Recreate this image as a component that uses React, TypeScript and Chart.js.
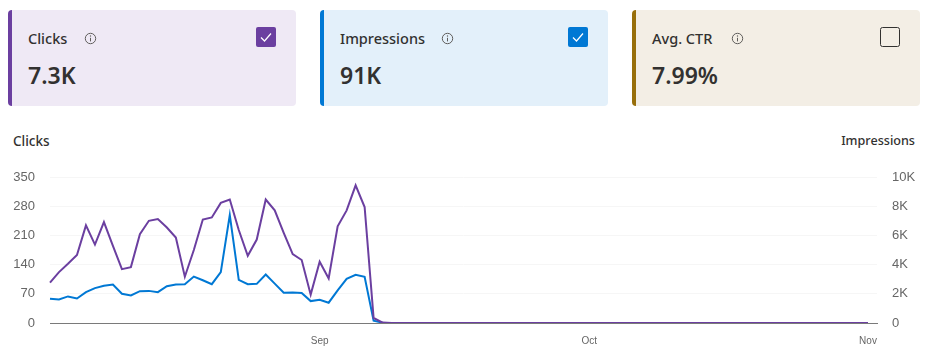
import React, { useEffect, useRef } from "react";
import { Chart, registerables } from "chart.js";

Chart.register(...registerables);

const monthLengths: [string, number, number][] = [
  ["Aug", 2, 31],
  ["Sep", 1, 30],
  ["Oct", 1, 31],
  ["Nov", 1, 2],
];
const categories: string[] = [];
for (const [m, from, to] of monthLengths) {
  for (let d = from; d <= to; d++) categories.push(`${m} ${d}`);
}
const monthTicks: Record<string, string> = { "Sep 1": "Sep", "Oct 1": "Oct", "Nov 1": "Nov" };

const clicks: (number | null)[] = [
  97, 122, 142, 163, 234, 188, 242, 185, 129, 134, 213, 245, 249, 229, 205, 111, 175, 248, 253,
  288, 296, 223, 161, 200, 296, 270, 216, 165, 151, 68, 147, 107, 232, 270, 330, 278, 12, 1,
  0, 0, 0, 0, 0, 0, 0, 0, 0, 0, 0, 0, 0, 0, 0, 0, 0, 0, 0, 0, 0, 0, 0, 0, 0, 0, 0, 0, 0, 0, 0, 0,
  0, 0, 0, 0, 0, 0, 0, 0, 0, 0, 0, 0, 0, 0, 0, 0, 0, 0, 0, 0, 0, 0, null,
];
const impressions: (number | null)[] = [
  1660, 1610, 1820, 1680, 2110, 2390, 2550, 2640, 2000, 1890, 2180, 2200, 2110, 2520, 2640, 2660, 3180, 2930, 2660,
  3480, 7390, 2950, 2660, 2680, 3320, 2700, 2070, 2090, 2050, 1500, 1590, 1390, 2230, 3020, 3300, 3160, 160, 20,
  0, 0, 0, 0, 0, 0, 0, 0, 0, 0, 0, 0, 0, 0, 0, 0, 0, 0, 0, 0, 0, 0, 0, 0, 0, 0, 0, 0, 0, 0, 0, 0,
  0, 0, 0, 0, 0, 0, 0, 0, 0, 0, 0, 0, 0, 0, 0, 0, 0, 0, 0, 0, 0, 0, null,
];

const clickTicks = [0, 70, 140, 210, 280, 350];
const impressionTicks = [0, 2000, 4000, 6000, 8000, 10000];
const impressionTickLabels = ["0", "2K", "4K", "6K", "8K", "10K"];

const PURPLE = "#6b3fa0";
const BLUE = "#0078d4";
const GOLD = "#986f0b";
const UI_FONT = '"Noto Sans", "Open Sans", sans-serif';
const AXIS_FONT = '"Liberation Sans", Arial, sans-serif';

const cards = [
  { title: "Clicks", value: "7.3K", left: 8, bg: "#efe9f5", accent: PURPLE, checked: true, info: 76 },
  { title: "Impressions", value: "91K", left: 320, bg: "#e3f0fa", accent: BLUE, checked: true, info: 121 },
  { title: "Avg. CTR", value: "7.99%", left: 632, bg: "#f3eee5", accent: GOLD, checked: false, info: 99 },
];

function Card(c: (typeof cards)[number]) {
  return (
    <div
      style={{
        position: "absolute",
        left: c.left,
        top: 10,
        width: 288,
        height: 96,
        boxSizing: "border-box",
        background: c.bg,
        borderLeft: `4px solid ${c.accent}`,
        borderRadius: 4,
        fontFamily: UI_FONT,
        color: "#323130",
      }}
    >
      <div style={{ position: "absolute", left: 16, top: 17, fontSize: 14.5, lineHeight: "22px", fontWeight: 500, whiteSpace: "nowrap" }}>
        {c.title}
      </div>
      <svg width="13" height="13" viewBox="0 0 13 13" style={{ position: "absolute", left: c.info - 4, top: 22 }}>
        <circle cx="6.5" cy="6.5" r="5.2" fill="none" stroke="#605e5c" strokeWidth="1" />
        <line x1="6.5" y1="5.8" x2="6.5" y2="9.4" stroke="#605e5c" strokeWidth="1" />
        <circle cx="6.5" cy="4" r="0.7" fill="#605e5c" />
      </svg>
      <div style={{ position: "absolute", left: 16, top: 47, fontSize: 23, lineHeight: "36px", fontWeight: 600, whiteSpace: "nowrap" }}>
        {c.value}
      </div>
      <svg width="20" height="20" viewBox="0 0 20 20" style={{ position: "absolute", left: 244, top: 17 }}>
        {c.checked ? (
          <>
            <rect x="0" y="0" width="20" height="20" rx="2" fill={c.accent} />
            <path d="M5 10.5 L8.5 14 L15 6.5" fill="none" stroke="#ffffff" strokeWidth="1.2" />
          </>
        ) : (
          <rect x="0.5" y="0.5" width="19" height="19" rx="2" fill="none" stroke="#323130" strokeWidth="1" />
        )}
      </svg>
    </div>
  );
}

export default function App() {
  const ref = useRef<HTMLCanvasElement>(null);

  useEffect(() => {
    const chart = new Chart(ref.current as HTMLCanvasElement, {
      type: "line",
      data: {
        labels: categories,
        datasets: [
          { label: "Clicks", data: clicks, yAxisID: "y", borderColor: PURPLE, borderWidth: 2, pointRadius: 0, tension: 0, spanGaps: false },
          { label: "Impressions", data: impressions, yAxisID: "y1", borderColor: BLUE, borderWidth: 2, pointRadius: 0, tension: 0, spanGaps: false },
        ],
      },
      options: {
        animation: false,
        responsive: false,
        layout: { padding: { top: 27, left: 0, right: 0, bottom: 0 } },
        plugins: { legend: { display: false }, tooltip: { enabled: false } },
        scales: {
          x: {
            offset: false,
            afterFit: (s: any) => { s.height = 32; },
            grid: { display: false },
            border: { color: "#7a7a7a", width: 1 },
            ticks: {
              autoSkip: false,
              maxRotation: 0,
              padding: 4,
              color: "#666666",
              font: { family: AXIS_FONT, size: 10 },
              callback: (_v: any, i: number) => monthTicks[categories[i]] ?? "",
            },
          },
          y: {
            position: "left",
            min: 0,
            max: 350,
            afterFit: (s: any) => { s.width = 50; },
            afterBuildTicks: (s: any) => { s.ticks = clickTicks.map((value) => ({ value })); },
            grid: { color: "#f6f6f6", drawTicks: false },
            border: { display: false },
            ticks: { padding: 15, color: "#666666", font: { family: AXIS_FONT, size: 13 } },
          },
          y1: {
            position: "right",
            min: 0,
            max: 10000,
            afterFit: (s: any) => { s.width = 48; },
            afterBuildTicks: (s: any) => { s.ticks = impressionTicks.map((value) => ({ value })); },
            grid: { display: false },
            border: { display: false },
            ticks: {
              padding: 7,
              color: "#666666",
              font: { family: AXIS_FONT, size: 13 },
              callback: (v: any) => impressionTickLabels[impressionTicks.indexOf(Number(v))],
            },
          },
        },
      },
    } as any);
    return () => chart.destroy();
  }, []);

  const axisTitle = {
    position: "absolute" as const,
    top: 132,
    fontFamily: UI_FONT,
    fontSize: 13,
    lineHeight: "18px",
    fontWeight: 500,
    color: "#323130",
    whiteSpace: "nowrap" as const,
  };

  return (
    <div style={{ position: "absolute", left: 0, top: 0, width: 925, height: 355, background: "#ffffff", overflow: "hidden" }}>
      {cards.map((c) => (
        <Card key={c.title} {...c} />
      ))}
      <div style={{ ...axisTitle, left: 13, fontSize: 13.5 }}>Clicks</div>
      <div style={{ ...axisTitle, right: 10, fontSize: 12.6 }}>Impressions</div>
      <canvas ref={ref} width={925} height={205} style={{ position: "absolute", left: 0, top: 150, display: "block" }} />
    </div>
  );
}
